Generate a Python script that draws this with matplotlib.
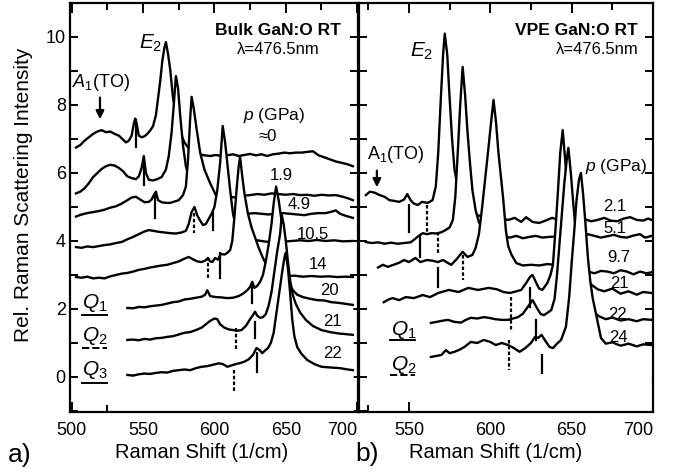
import matplotlib
matplotlib.use('Agg')
import matplotlib.pyplot as plt
from matplotlib.ticker import MultipleLocator

plt.rcParams['font.family'] = ['Liberation Sans', 'DejaVu Sans']
plt.rcParams['mathtext.fontset'] = 'custom'
plt.rcParams['mathtext.rm'] = 'Liberation Sans'
plt.rcParams['mathtext.it'] = 'Liberation Sans:italic'

# ---- a) bulk GaN:O, spectra from top (back) to bottom (front)
bulk_p = ['≈0', '1.9', '4.9', '10.5', '14', '20', '21', '22']

b0_x = [503, 506, 509, 512, 515, 518, 521, 524, 527, 530, 533, 536, 538, 540, 542, 543.5, 544.5, 545.5, 547, 549,
        551, 553, 555, 557, 559, 560.5, 562, 563.5, 565, 566, 567.5, 569, 571, 573, 576, 579, 582, 585, 589, 593,
        597, 601, 605, 609, 613, 617, 621, 625, 629, 633, 637, 641, 645, 649, 653, 657, 661, 665, 669, 673,
        677, 681, 685, 689, 693, 697]
b0_y = [6.75, 6.82, 6.95, 7.05, 7.15, 7.22, 7.26, 7.2, 7.22, 7.15, 7.1, 6.98, 6.9, 6.95, 7.1, 7.45, 7.6, 7.45, 7.1, 7.05,
        7.08, 7.15, 7.25, 7.38, 7.7, 8.2, 8.7, 9.3, 9.7, 9.85, 9.5, 9.05, 8.2, 7.75, 7.2, 6.9, 6.72, 6.62, 6.55, 6.52,
        6.5, 6.53, 6.5, 6.52, 6.55, 6.5, 6.53, 6.56, 6.52, 6.55, 6.5, 6.55, 6.57, 6.6, 6.58, 6.6, 6.6, 6.62, 6.64, 6.52,
        6.46, 6.4, 6.34, 6.3, 6.26, 6.2]

b1_x = [503, 506, 509, 512, 515, 518, 521, 524, 527, 530, 533, 536, 539, 542, 545, 547, 549, 550.5, 552, 554,
        557, 560, 563, 566, 568, 570, 571.5, 573, 574.5, 576, 578, 580, 583, 586, 590, 595, 600, 605, 610, 615,
        620, 625, 630, 635, 640, 645, 650, 655, 660, 665, 670, 675, 680, 685, 690, 694, 697]
b1_y = [5.4, 5.45, 5.55, 5.7, 5.88, 6.0, 6.12, 6.2, 6.24, 6.22, 6.15, 6.05, 5.9, 5.85, 5.82, 5.9, 6.15, 6.5, 6.0, 5.8,
        5.78, 5.82, 5.88, 6.1, 6.5, 7.2, 8.0, 8.85, 8.5, 7.7, 6.8, 6.2, 5.75, 5.55, 5.42, 5.38, 5.3, 5.32, 5.3, 5.28,
        5.33, 5.35, 5.38, 5.36, 5.4, 5.38, 5.36, 5.38, 5.35, 5.36, 5.33, 5.36, 5.34, 5.35, 5.3, 5.25, 5.2]

b2_x = [503, 507, 511, 515, 519, 523, 527, 531, 535, 539, 542, 545, 548, 551, 554, 556, 557.5, 559, 560.5, 563,
        566, 569, 572, 575, 578, 580, 581.5, 583, 584, 585.5, 587.5, 590, 593, 597, 601, 605, 609, 613, 618, 623,
        628, 633, 638, 643, 648, 653, 658, 663, 668, 673, 678, 682, 685, 688, 692, 697]
b2_y = [4.72, 4.78, 4.82, 4.85, 4.88, 4.92, 4.98, 5.02, 5.1, 5.2, 5.28, 5.3, 5.22, 5.14, 5.15, 5.22, 5.35, 5.45, 5.2, 5.14,
        5.12, 5.12, 5.16, 5.2, 5.35, 5.6, 6.4, 7.6, 8.24, 7.9, 7.3, 6.6, 6.1, 5.7, 5.35, 5.05, 4.88, 4.8, 4.78, 4.8,
        4.82, 4.8, 4.78, 4.8, 4.82, 4.8, 4.78, 4.76, 4.8, 4.82, 4.82, 4.86, 4.9, 4.8, 4.74, 4.68]

b3_x = [503, 507, 511, 515, 519, 523, 527, 531, 535, 539, 543, 547, 551, 554, 557, 561, 565, 569, 573, 577,
        580, 582, 584, 586, 588, 590, 592, 594, 596, 598, 600, 602, 604, 605.8, 607.5, 609, 611, 613, 616, 620,
        625, 630, 636, 642, 648, 654, 660, 666, 672, 678, 684, 690, 697]
b3_y = [3.82, 3.8, 3.84, 3.82, 3.85, 3.88, 3.9, 3.94, 3.97, 4.05, 4.12, 4.2, 4.28, 4.32, 4.3, 4.27, 4.25, 4.23, 4.22, 4.25,
        4.3, 4.5, 4.85, 5.0, 4.75, 4.6, 4.47, 4.5, 4.65, 4.8, 5.0, 5.5, 6.3, 7.38, 6.9, 6.3, 5.5, 4.8, 4.25, 4.12,
        4.06, 4.02, 3.98, 3.97, 3.98, 4.0, 4.02, 4.0, 4.03, 4.0, 4.02, 3.99, 4.0]

b4_x = [503, 507, 511, 515, 519, 523, 527, 531, 535, 539, 543, 547, 551, 555, 559, 563, 567, 571, 575, 579,
        582, 585, 588, 591, 593.5, 595.5, 597, 598.5, 600.5, 602.5, 604.5, 607, 609, 611, 612.5, 614, 615.5, 617, 618, 619.5,
        621, 623.5, 626, 628.5, 631, 634, 637, 640.5, 644, 650, 656, 662, 668, 674, 680, 686, 692, 697]
b4_y = [2.94, 2.92, 2.95, 2.9, 2.92, 2.9, 2.96, 3.0, 3.04, 3.06, 3.1, 3.15, 3.18, 3.22, 3.25, 3.28, 3.3, 3.35, 3.4, 3.48,
        3.53, 3.46, 3.4, 3.38, 3.42, 3.5, 3.4, 3.38, 3.5, 3.45, 3.62, 3.6, 3.65, 3.73, 4.0, 4.7, 5.5, 6.2, 6.47, 5.9,
        5.4, 4.8, 4.4, 4.1, 3.8, 3.5, 3.25, 3.05, 2.98, 2.96, 2.98, 2.95, 2.97, 2.95, 2.96, 2.94, 2.95, 2.94]

b5_x = [539, 543, 547, 551, 555, 559, 563, 567, 571, 575, 579, 583, 587, 591, 593.5, 595, 597, 601, 605, 609,
        613, 617, 620, 623, 625, 626.5, 628, 630, 632, 634, 636, 638, 640, 641.5, 643.2, 645, 647, 649, 651, 653,
        655, 658, 662, 667, 672, 677, 682, 687, 692, 697]
b5_y = [2.03, 2.02, 2.06, 2.05, 2.08, 2.1, 2.12, 2.16, 2.2, 2.22, 2.28, 2.3, 2.33, 2.36, 2.42, 2.55, 2.38, 2.35, 2.34, 2.32,
        2.33, 2.38, 2.45, 2.55, 2.65, 2.8, 2.62, 2.68, 2.8, 3.0, 3.4, 3.9, 4.5, 5.1, 5.6, 5.2, 4.6, 3.7, 3.0, 2.7,
        2.55, 2.42, 2.35, 2.3, 2.26, 2.25, 2.2, 2.18, 2.15, 2.12]

b6_x = [539, 543, 547, 551, 555, 559, 563, 567, 571, 575, 579, 583, 587, 591, 594, 597, 600, 602, 604, 607,
        610, 613, 616, 619, 622, 625, 627, 628.5, 630, 632, 634, 636, 638, 640, 642, 644, 646, 647.2, 648.5, 650,
        651.5, 653, 655, 657, 660, 664, 669, 675, 681, 687, 692, 697]
b6_y = [1.09, 1.1, 1.08, 1.12, 1.1, 1.14, 1.15, 1.18, 1.2, 1.25, 1.3, 1.32, 1.38, 1.45, 1.55, 1.65, 1.72, 1.7, 1.55, 1.45,
        1.4, 1.38, 1.36, 1.38, 1.5, 1.7, 1.82, 1.92, 1.8, 1.74, 1.76, 1.85, 2.1, 2.5, 3.1, 3.7, 4.2, 4.76, 4.5, 4.0,
        3.4, 2.85, 2.4, 2.15, 1.9, 1.68, 1.5, 1.38, 1.32, 1.28, 1.26, 1.24]

b7_x = [539, 543, 547, 551, 555, 559, 563, 567, 571, 575, 579, 583, 587, 591, 595, 599, 603, 606, 609, 612,
        615, 618, 621, 624, 627, 629.5, 631.5, 633.5, 635.5, 637.5, 639.5, 641.5, 643.5, 645.5, 647.5, 649, 650, 651.5, 653, 654.5,
        656, 658, 661, 665, 670, 675, 681, 688, 692, 697]
b7_y = [0.06, 0.04, 0.08, 0.1, 0.09, 0.12, 0.14, 0.13, 0.18, 0.2, 0.22, 0.2, 0.26, 0.3, 0.32, 0.36, 0.4, 0.38, 0.3, 0.34,
        0.38, 0.41, 0.45, 0.52, 0.65, 0.85, 0.8, 0.7, 0.78, 0.85, 1.0, 1.3, 1.9, 2.5, 3.1, 3.5, 3.65, 3.2, 2.5, 1.7,
        1.2, 0.88, 0.68, 0.5, 0.38, 0.3, 0.28, 0.26, 0.23, 0.2]

# mode markers (x, top, bottom)
bulk_solid = [(545.0, 7.56, 6.76), (550.7, 6.3, 5.65), (558.6, 5.35, 4.68), (599.2, 4.82, 4.32),
              (603.9, 3.65, 2.91), (626.1, 2.76, 2.18), (628.5, 1.62, 1.15), (629.6, 0.7, 0.15)]
bulk_dashed = [(585.7, 4.82, 4.23), (595.7, 3.53, 2.85), (615.0, 1.45, 0.8), (614.0, 0.22, -0.44)]

# ---- b) VPE GaN:O
vpe_p = ['2.1', '5.1', '9.7', '21', '22', '24']

v0_x = [523.5, 526, 529, 532, 535, 538, 541, 544, 547, 549, 551, 553, 555.5, 558, 561.5, 564.5, 566.5, 568, 569.5, 571,
        572, 573.5, 575, 576.5, 578, 580.5, 584, 588, 593, 598, 603, 607, 611, 615, 619, 622, 626, 630, 634, 638,
        642, 646, 650, 654, 658, 662, 666, 670, 674, 678, 682, 686, 690, 694, 697, 699]
v0_y = [5.35, 5.45, 5.42, 5.35, 5.3, 5.2, 5.18, 5.15, 5.22, 5.38, 5.2, 5.1, 5.06, 5.15, 5.12, 5.2, 5.6, 6.6, 8.1, 9.5,
        10.1, 9.5, 8.2, 7.0, 6.1, 5.45, 5.05, 4.82, 4.75, 4.68, 4.62, 4.66, 4.62, 4.68, 4.56, 4.7, 4.56, 4.53, 4.6, 4.68,
        4.62, 4.58, 4.62, 4.6, 4.64, 4.58, 4.62, 4.68, 4.6, 4.58, 4.66, 4.7, 4.62, 4.6, 4.66, 4.62]

v1_x = [523.5, 527, 531, 535, 539, 543, 547, 551, 553.5, 556, 558.5, 561, 564, 567, 570, 572.5, 575, 577, 578.5, 580,
        581.5, 583, 584.5, 586, 587.5, 589, 591, 593, 596, 600, 604, 608, 612, 616, 620, 624, 628, 632, 636, 640,
        644, 648, 652, 656, 660, 664, 668, 672, 676, 680, 684, 688, 692, 695, 697, 699]
v1_y = [3.97, 3.94, 3.96, 3.92, 3.95, 3.92, 3.94, 3.96, 4.05, 4.15, 4.23, 4.2, 4.23, 4.22, 4.26, 4.32, 4.4, 4.62, 5.3, 6.6,
        8.0, 9.12, 8.3, 7.2, 6.3, 5.5, 4.9, 4.55, 4.3, 4.18, 4.12, 4.14, 4.1, 4.15, 4.08, 4.12, 4.15, 4.1, 4.12, 4.13,
        4.12, 4.15, 4.12, 4.1, 4.2, 4.15, 4.1, 4.14, 4.18, 4.12, 4.1, 4.16, 4.2, 4.1, 4.12, 4.15]

v2_x = [531, 534, 537, 540.5, 544, 547, 550, 554, 557, 561, 564.5, 567.8, 571, 574, 576, 579, 583, 586, 589, 591,
        593, 595, 597, 599, 600.5, 602, 603.5, 605, 606.5, 608, 609.6, 611, 613, 616, 620, 625, 630, 635, 640, 645,
        650, 655, 660, 664, 668, 672, 676, 680, 684, 688, 692, 696, 699]
v2_y = [3.22, 3.3, 3.24, 3.3, 3.36, 3.44, 3.38, 3.5, 3.38, 3.44, 3.42, 3.38, 3.44, 3.35, 3.3, 3.45, 3.68, 3.53, 3.59, 3.8,
        4.2, 5.0, 5.9, 6.8, 7.5, 8.15, 7.5, 6.6, 5.9, 5.2, 4.3, 3.85, 3.6, 3.35, 3.28, 3.3, 3.28, 3.32, 3.3, 3.28,
        3.25, 3.2, 3.1, 3.05, 3.12, 3.1, 3.05, 3.14, 3.1, 3.02, 3.1, 3.05, 3.08]

v3_x = [534.5, 537.5, 540, 544, 548, 553, 558.5, 563, 568, 574.5, 580.5, 586.5, 592.5, 599, 604, 608, 612, 616, 619, 622,
        624.5, 626, 628, 630, 632, 635, 637, 638.5, 640, 641.5, 643, 644.5, 646, 648, 650, 653, 656, 659, 662, 666,
        670, 675, 680, 685, 690, 694, 699]
v3_y = [2.2, 2.28, 2.32, 2.26, 2.35, 2.32, 2.41, 2.35, 2.47, 2.56, 2.5, 2.62, 2.56, 2.62, 2.58, 2.5, 2.47, 2.52, 2.56, 2.76,
        2.95, 3.0, 2.79, 2.6, 2.56, 2.76, 3.0, 3.3, 4.3, 5.4, 6.6, 7.26, 6.4, 5.2, 4.4, 3.8, 3.3, 2.95, 2.72, 2.58,
        2.52, 2.6, 2.45, 2.52, 2.42, 2.5, 2.47]

v4_x = [563.5, 567, 570, 574, 578, 582, 585, 588, 592, 596, 599, 603, 607, 611, 614, 617, 620, 623, 626, 629,
        631, 633, 635.5, 637.5, 639.5, 641, 642.5, 644, 645.5, 647, 648, 649.5, 651, 652.5, 654, 656, 658, 660, 663, 667,
        671, 675, 680, 685, 690, 694, 699]
v4_y = [1.59, 1.62, 1.65, 1.68, 1.62, 1.6, 1.68, 1.74, 1.72, 1.76, 1.74, 1.7, 1.68, 1.68, 1.72, 1.76, 1.86, 2.06, 2.26, 2.0,
        1.85, 1.82, 1.9, 1.97, 2.3, 3.0, 3.9, 4.8, 5.7, 6.4, 6.74, 6.0, 5.1, 4.3, 3.6, 2.9, 2.45, 2.15, 1.92, 1.78,
        1.7, 1.75, 1.66, 1.7, 1.64, 1.7, 1.68]

v5_x = [563.5, 567, 570, 572.7, 575, 578, 581, 584, 588, 592, 596, 600, 603.4, 607, 611, 614.5, 618, 621.5, 625, 627.5,
        629.5, 631.5, 634, 636.5, 638.5, 641, 643.5, 646.5, 648.5, 650, 651.6, 653, 654.5, 655.7, 657, 658.5, 660, 661.5, 663, 665,
        668, 671, 675, 680, 685, 690, 694, 699]
v5_y = [0.59, 0.62, 0.65, 0.79, 0.7, 0.74, 0.8, 0.88, 1.03, 1.0, 1.09, 1.03, 0.94, 1.0, 0.94, 0.85, 0.74, 0.85, 1.0, 1.18,
        1.15, 1.24, 1.05, 0.88, 0.85, 0.98, 1.09, 1.48, 2.36, 3.35, 4.3, 5.2, 5.8, 6.0, 5.4, 4.5, 3.5, 2.8, 2.3, 1.85,
        1.15, 0.98, 1.02, 0.92, 0.98, 0.9, 0.96, 0.94]

vpe_solid = [(550.0, 5.06, 4.26), (557.0, 4.13, 3.54), (567.6, 3.2, 2.66), (624.6, 2.62, 2.06),
             (628.2, 1.68, 1.09), (631.6, 0.65, 0.12)]
vpe_dashed = [(561.0, 5.06, 4.24), (567.6, 4.27, 3.59), (583.4, 3.59, 2.85), (612.6, 2.35, 1.38),
              (611.3, 1.09, 0.2)]

bulk_curves = [(b0_x, b0_y), (b1_x, b1_y), (b2_x, b2_y), (b3_x, b3_y),
               (b4_x, b4_y), (b5_x, b5_y), (b6_x, b6_y), (b7_x, b7_y)]
vpe_curves = [(v0_x, v0_y), (v1_x, v1_y), (v2_x, v2_y), (v3_x, v3_y), (v4_x, v4_y), (v5_x, v5_y)]


def draw_stack(ax, curves, solid, dashed):
    # lower spectra sit in front and hide the ones behind them
    z = 1.0
    for x, y in curves:
        ax.fill_between(x, y, -2, color='white', lw=0, zorder=z)
        ax.plot(x, y, color='black', lw=1.7, solid_joinstyle='round', zorder=z + 0.01)
        z += 0.1
    for x, top, bot in solid:
        ax.plot([x, x], [top, bot], color='black', lw=1.6, zorder=2.4)
    for x, top, bot in dashed:
        ax.plot([x, x], [top, bot], color='black', lw=1.6, ls=(0, (1.6, 1.0)), zorder=2.4)


fig = plt.figure(figsize=(6.77, 4.72), dpi=100)
ax1 = fig.add_axes([70 / 677, 60 / 472, 288 / 677, 409 / 472])
ax2 = fig.add_axes([359 / 677, 60 / 472, 294 / 677, 409 / 472])

draw_stack(ax1, bulk_curves, bulk_solid, bulk_dashed)
draw_stack(ax2, vpe_curves, vpe_solid, vpe_dashed)

ax1.set_xlim(498.8, 700.6)
ax2.set_xlim(519.3, 700)
for ax in (ax1, ax2):
    ax.set_ylim(-1.03, 11.0)
    for s in ax.spines.values():
        s.set_linewidth(1.6)
    ax.tick_params(which='both', direction='in', top=True, right=True, width=1.4, labelsize=13)
    ax.tick_params(axis='x', which='major', length=7, pad=7)
    ax.tick_params(axis='x', which='minor', length=5)
    ax.tick_params(axis='y', which='both', length=6, pad=3)
    ax.xaxis.set_minor_locator(MultipleLocator(25))

ax1.set_xticks([500, 550, 600, 650, 700])
ax1.yaxis.set_major_locator(MultipleLocator(2))
ax1.yaxis.set_minor_locator(MultipleLocator(1))
ax1.get_xticklabels()[-1].set_horizontalalignment('right')

ax2.set_xticks([550, 600, 650, 700])
ax2.yaxis.set_major_locator(MultipleLocator(1))
ax2.tick_params(labelleft=False)
ax2.get_xticklabels()[-1].set_horizontalalignment('right')

# panel a) annotations
ax1.text(644.6, 10.2, 'Bulk GaN:O RT', ha='center', va='center', fontsize=12.5, fontweight='bold')
ax1.text(644.6, 9.62, 'λ=476.5nm', ha='center', va='center', fontsize=12)
ax1.text(555, 9.8, r'$E_2$', ha='center', va='center', fontsize=15)
ax1.text(520.5, 8.65, r'$A_1$(TO)', ha='center', va='center', fontsize=13)
ax1.annotate('', xy=(519.8, 7.5), xytext=(519.8, 8.3),
             arrowprops=dict(arrowstyle='-|>', color='black', lw=1.6, mutation_scale=12))
ax1.text(641.8, 7.7, r'$p$ (GPa)', ha='center', va='center', fontsize=12.5)
bulk_lab_pos = [(637.6, 7.06), (646.7, 5.94), (659.3, 5.06), (669, 4.2),
                (672.6, 3.32), (680.3, 2.53), (683, 1.62), (683, 0.68)]
for lab, (lx, ly) in zip(bulk_p, bulk_lab_pos):
    ax1.text(lx, ly, lab, ha='center', va='center', fontsize=12, zorder=3)
for i, (qy, uy, ls) in enumerate([(2.18, 1.82, '-'), (1.21, 0.85, '--'), (0.2, -0.18, '-')]):
    ax1.text(516.3, qy, r'$Q_%d$' % (i + 1), ha='center', va='center', fontsize=15, zorder=3)
    ax1.plot([507.2, 524.7], [uy, uy], color='black', lw=1.4, ls=ls, zorder=3)

# panel b) annotations
ax2.text(652.9, 10.2, 'VPE GaN:O RT', ha='center', va='center', fontsize=12.5, fontweight='bold')
ax2.text(665.8, 9.62, 'λ=476.5nm', ha='center', va='center', fontsize=12)
ax2.text(558, 9.59, r'$E_2$', ha='center', va='center', fontsize=15)
ax2.text(542, 6.53, r'A$_1$(TO)', ha='center', va='center', fontsize=13)
ax2.annotate('', xy=(530.3, 5.5), xytext=(530.3, 6.15),
             arrowprops=dict(arrowstyle='-|>', color='black', lw=1.6, mutation_scale=12))
ax2.text(677.3, 6.18, r'$p$ (GPa)', ha='center', va='center', fontsize=12.5)
vpe_lab_pos = [(676.6, 5.0), (676.6, 4.38), (679, 3.5), (679.6, 2.74), (678.4, 1.85), (679, 1.15)]
for lab, (lx, ly) in zip(vpe_p, vpe_lab_pos):
    ax2.text(lx, ly, lab, ha='center', va='center', fontsize=12, zorder=3)
for i, (qy, uy, ls) in enumerate([(1.38, 1.09, '-'), (0.35, 0.06, '--')]):
    ax2.text(546.6, qy, r'$Q_%d$' % (i + 1), ha='center', va='center', fontsize=15, zorder=3)
    ax2.plot([538.5, 554.0], [uy, uy], color='black', lw=1.4, ls=ls, zorder=3)

fig.text(202 / 677, 1 - 452 / 472, 'Raman Shift (1/cm)', ha='center', va='center', fontsize=14.5)
fig.text(496 / 677, 1 - 452 / 472, 'Raman Shift (1/cm)', ha='center', va='center', fontsize=14.5)
fig.text(24 / 677, 1 - 195 / 472, 'Rel. Raman Scattering Intensity', rotation=90,
         ha='center', va='center', fontsize=15)
fig.text(20 / 677, 1 - 455 / 472, 'a)', ha='center', va='center', fontsize=19)
fig.text(367 / 677, 1 - 454 / 472, 'b)', ha='center', va='center', fontsize=19)

fig.savefig('out.png', dpi=100)
